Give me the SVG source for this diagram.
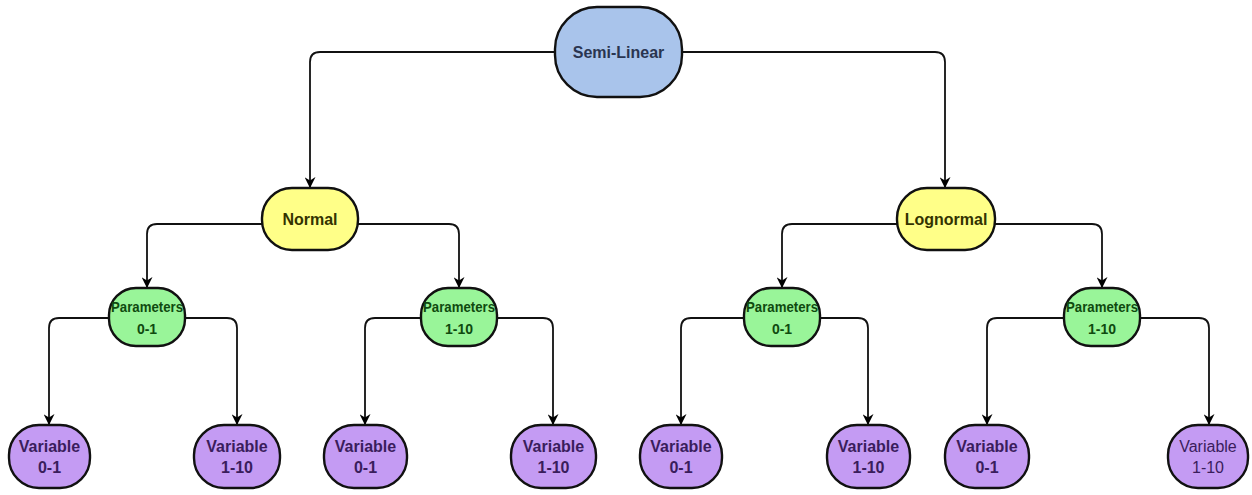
<svg xmlns="http://www.w3.org/2000/svg" width="1252" height="495" viewBox="0 0 1252 495">
<defs>
<marker id="arr" viewBox="0 0 10 10" refX="9" refY="5" markerWidth="11" markerHeight="11" orient="auto" markerUnits="userSpaceOnUse">
<path d="M0,0 L10,5 L0,10 L3,5 Z" fill="#000"/>
</marker>
<style>
.n{stroke:#111;stroke-width:2.4}
.top{fill:#a9c4eb}
.mid{fill:#ffff88}
.par{fill:#99f599}
.var{fill:#c49bf3}
.c{fill:none;stroke:#111;stroke-width:1.8;marker-end:url(#arr)}
text{font-family:"Liberation Sans",Arial,sans-serif;text-anchor:middle;font-weight:bold}
.t1{font-size:16px;fill:#2a3550}
.t2{font-size:16px;fill:#333300}
.t3{font-size:14px;fill:#0f4a0f}
.t4{font-size:16px;fill:#3a1d5c}
.t5{font-size:16px;fill:#3a1d5c;font-weight:normal}
</style>
</defs>
<rect width="1252" height="495" fill="#fff"/>
<g id="connectors">
<path class="c" d="M555,52 H320 Q310,52 310,62 V187"/>
<path class="c" d="M682,52 H935 Q945,52 945,62 V187"/>
<path class="c" d="M262,224 H157 Q147,224 147,234 V287"/>
<path class="c" d="M358,224 H449 Q459,224 459,234 V287"/>
<path class="c" d="M897,224 H792 Q782,224 782,234 V287"/>
<path class="c" d="M995,224 H1092 Q1102,224 1102,234 V287"/>
<path class="c" d="M109,318 H59 Q49,318 49,328 V424"/>
<path class="c" d="M185,318 H227 Q237,318 237,328 V424"/>
<path class="c" d="M421,318 H375 Q365,318 365,328 V424"/>
<path class="c" d="M497,318 H543 Q553,318 553,328 V424"/>
<path class="c" d="M744,318 H691 Q681,318 681,328 V424"/>
<path class="c" d="M820,318 H858 Q868,318 868,328 V424"/>
<path class="c" d="M1064,318 H997 Q987,318 987,328 V424"/>
<path class="c" d="M1140,318 H1199 Q1209,318 1209,328 V424"/>
</g>
<g id="semi-linear"><rect class="n top" x="555" y="7" width="127" height="90" rx="42"/><text class="t1" x="618.5" y="58">Semi-Linear</text></g>
<g id="normal"><rect class="n mid" x="262" y="188" width="96" height="62" rx="30"/><text class="t2" x="310" y="225">Normal</text></g>
<g id="lognormal"><rect class="n mid" x="897" y="188" width="98" height="62" rx="30"/><text class="t2" x="946" y="225">Lognormal</text></g>
<g id="param-n-01"><rect class="n par" x="109" y="288" width="76" height="58" rx="27"/><text class="t3" x="147" y="312" textLength="72" lengthAdjust="spacingAndGlyphs">Parameters</text><text class="t3" x="147" y="334">0-1</text></g>
<g id="param-n-110"><rect class="n par" x="421" y="288" width="76" height="58" rx="27"/><text class="t3" x="459" y="312" textLength="72" lengthAdjust="spacingAndGlyphs">Parameters</text><text class="t3" x="459" y="334">1-10</text></g>
<g id="param-l-01"><rect class="n par" x="744" y="288" width="76" height="58" rx="27"/><text class="t3" x="782" y="312" textLength="72" lengthAdjust="spacingAndGlyphs">Parameters</text><text class="t3" x="782" y="334">0-1</text></g>
<g id="param-l-110"><rect class="n par" x="1064" y="288" width="76" height="58" rx="27"/><text class="t3" x="1102" y="312" textLength="72" lengthAdjust="spacingAndGlyphs">Parameters</text><text class="t3" x="1102" y="334">1-10</text></g>
<g id="var1"><rect class="n var" x="9" y="425" width="81" height="63" rx="30"/><text class="t4" x="49.5" y="452">Variable</text><text class="t4" x="49.5" y="473">0-1</text></g>
<g id="var2"><rect class="n var" x="194" y="425" width="86" height="63" rx="30"/><text class="t4" x="237" y="452">Variable</text><text class="t4" x="237" y="473">1-10</text></g>
<g id="var3"><rect class="n var" x="324" y="425" width="83" height="63" rx="30"/><text class="t4" x="365.5" y="452">Variable</text><text class="t4" x="365.5" y="473">0-1</text></g>
<g id="var4"><rect class="n var" x="511" y="425" width="85" height="63" rx="30"/><text class="t4" x="553.5" y="452">Variable</text><text class="t4" x="553.5" y="473">1-10</text></g>
<g id="var5"><rect class="n var" x="640" y="425" width="82" height="63" rx="30"/><text class="t4" x="681" y="452">Variable</text><text class="t4" x="681" y="473">0-1</text></g>
<g id="var6"><rect class="n var" x="827" y="425" width="83" height="63" rx="30"/><text class="t4" x="868.5" y="452">Variable</text><text class="t4" x="868.5" y="473">1-10</text></g>
<g id="var7"><rect class="n var" x="945" y="425" width="84" height="63" rx="30"/><text class="t4" x="987" y="452">Variable</text><text class="t4" x="987" y="473">0-1</text></g>
<g id="var8"><rect class="n var" x="1168" y="425" width="80" height="63" rx="30"/><text class="t5" x="1208" y="452">Variable</text><text class="t5" x="1208" y="473">1-10</text></g>
</svg>
